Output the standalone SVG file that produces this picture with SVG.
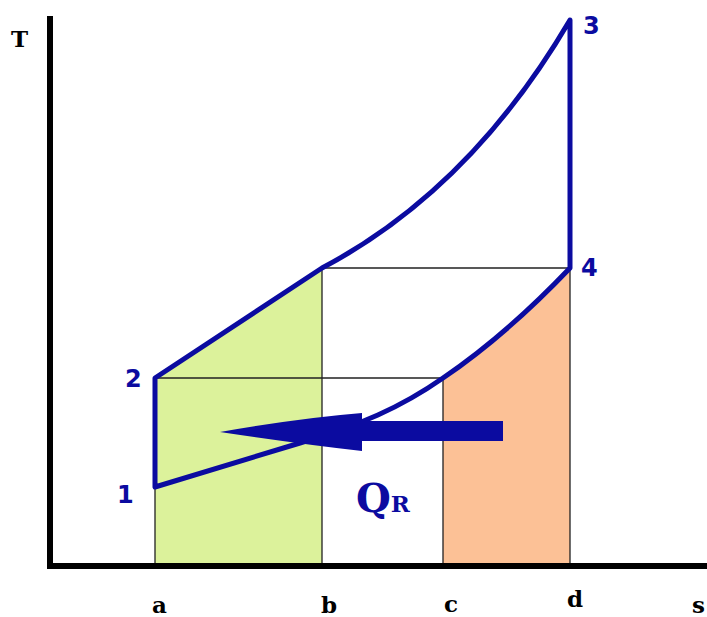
<svg xmlns="http://www.w3.org/2000/svg" width="707" height="617" viewBox="0 0 707 617">
<style>
.cyc{fill:none;stroke:#0b0ba0;stroke-width:5;stroke-linejoin:round;stroke-linecap:round}
.thin{fill:none;stroke:#222;stroke-width:1.3}
.axis{fill:none;stroke:#000;stroke-width:6}
.num{font-family:"DejaVu Sans",sans-serif;font-weight:bold;font-size:24px;fill:#0b0ba0}
.ax{font-family:"DejaVu Serif",serif;font-weight:bold;font-size:23px;fill:#000}
.q{font-family:"DejaVu Serif",serif;font-weight:bold;fill:#0b0ba0}
</style>
<rect width="707" height="617" fill="#fff"/>
<g id="areas">
<path d="M155,378 L322,268 L322,563 L155,563 Z" fill="#dcf29b"/>
<path d="M443,378 C490,346 530,310 570,268 L570,563 L443,563 Z" fill="#fcc196"/>
</g>
<g id="guides">
<path class="thin" d="M322,268 H570 M155,378 H443 M155,487 V563 M322,268 V563 M443,378 V563 M570,268 V563"/>
</g>
<g id="axes">
<path class="axis" d="M50,16 V566 H707"/>
<text class="ax" x="11" y="47">T</text>
<text class="ax" x="152" y="613">a</text>
<text class="ax" x="321" y="613">b</text>
<text class="ax" x="444" y="612">c</text>
<text class="ax" x="567" y="607">d</text>
<text class="ax" x="692" y="613">s</text>
</g>
<g id="cycle">
<path class="cyc" d="M155,487 V378 L322,268 Q470,190 570,20 V268 C530,310 490,346 443,378 C400,408 360,425 300,443 Z"/>
</g>
<g id="labels">
<text class="num" x="117" y="503">1</text>
<text class="num" x="125" y="387">2</text>
<text class="num" x="583" y="34">3</text>
<text class="num" x="581" y="276">4</text>
</g>
<g id="arrow">
<path d="M220,432 Q300,418 362,413 L362,421 L503,421 L503,441 L362,441 L362,451 Q300,444 220,432 Z" fill="#0b0ba0"/>
</g>
<g id="QR">
<text class="q" x="356" y="512" font-size="40">Q<tspan font-size="23">R</tspan></text>
</g>
</svg>
